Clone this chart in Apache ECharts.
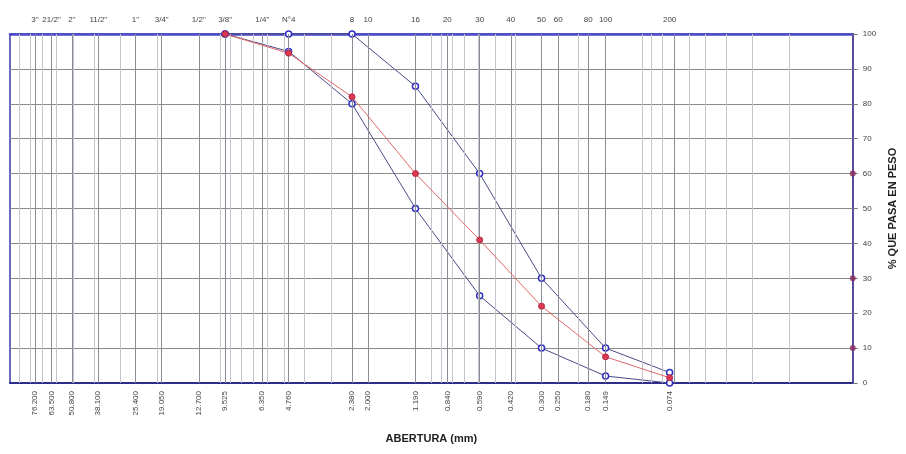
<!DOCTYPE html>
<html><head><meta charset="utf-8">
<script src="https://cdn.jsdelivr.net/npm/echarts@6/dist/echarts.min.js"></script>
<style>html,body{margin:0;padding:0;background:#fff}#c{width:906px;height:454px}</style>
</head><body><div id="c"></div>
<script>
// Sieve openings (mm) and their names
const sieveMm = [76.2, 63.5, 50.8, 38.1, 25.4, 19.05, 12.7, 9.525, 6.35, 4.76, 2.38, 2.0, 1.19, 0.84, 0.59, 0.42, 0.30, 0.25, 0.18, 0.149, 0.074];
const sieveNames = ['3"', '21/2"', '2"', '11/2"', '1"', '3/4"', '1/2"', '3/8"', '1/4"', 'N°4', '8', '10', '16', '20', '30', '40', '50', '60', '80', '100', '200'];
const sieveLabels = ['76.200', '63.500', '50.800', '38.100', '25.400', '19.050', '12.700', '9.525', '6.350', '4.760', '2.380', '2.000', '1.190', '0.840', '0.590', '0.420', '0.300', '0.250', '0.180', '0.149', '0.074'];
// log-paper grid lines
const logGrid = [90, 80, 70, 60, 50, 40, 30, 20, 10, 9, 8, 7, 6, 5, 4, 3, 2, 1, 0.9, 0.8, 0.7, 0.6, 0.5, 0.4, 0.3, 0.2, 0.1, 0.09, 0.08, 0.07, 0.06, 0.05, 0.04, 0.03, 0.02];
// Tested sieves
const testMm = [9.525, 4.76, 2.38, 1.19, 0.59, 0.30, 0.149, 0.074];
const upperLimit = [100, 100, 100, 85, 60, 30, 10, 3];
const lowerLimit = [100, 95, 80, 50, 25, 10, 2, 0];
const sample = [100, 94.5, 82, 60, 41, 22, 7.5, 1.5];
// marks on right edge
const edgeX = 0.01;
const edgeMarks = [60, 30, 10];
const yTicks = [0, 10, 20, 30, 40, 50, 60, 70, 80, 90, 100];

const pair = (xs, ys) => xs.map((x, i) => [x, ys[i]]);
const F = 'Liberation Sans, Arial, sans-serif';
const chart = echarts.init(document.getElementById('c'), null, {renderer: 'canvas'});
const xBase = {
  type: 'log', logBase: 10, min: 0.01, max: 100, inverse: true,
  splitLine: {show: false}, minorSplitLine: {show: false},
};
chart.setOption({
  animation: false,
  backgroundColor: '#fff',
  grid: {left: 10, right: 53, top: 34, bottom: 71, show: true, borderColor: '#3a3aa8', borderWidth: 1.5},
  xAxis: [
    Object.assign({}, xBase, {
      position: 'bottom',
      name: 'ABERTURA (mm)', nameLocation: 'middle', nameGap: 50,
      nameTextStyle: {fontFamily: F, fontSize: 11, fontWeight: 'bold', color: '#222'},
      axisLine: {show: true, lineStyle: {color: '#2e2e8a', width: 2}},
      axisTick: {show: false, customValues: sieveMm},
      axisLabel: {
        customValues: sieveMm, rotate: 90, margin: 8, interval: 0, hideOverlap: false,
        fontFamily: F, fontSize: 8, color: '#444',
        formatter: v => { const i = sieveMm.findIndex(s => Math.abs(s - v) < 1e-6); return i >= 0 ? sieveLabels[i] : ''; }
      }
    }),
    Object.assign({}, xBase, {
      position: 'top',
      axisLine: {show: true, lineStyle: {color: '#4a4ac8', width: 2.5}},
      axisTick: {show: false, customValues: sieveMm},
      axisLabel: {
        customValues: sieveMm, margin: 10, interval: 0, hideOverlap: false,
        fontFamily: F, fontSize: 8, color: '#444',
        formatter: v => { const i = sieveMm.findIndex(s => Math.abs(s - v) < 1e-6); return i >= 0 ? sieveNames[i] : ''; }
      }
    })
  ],
  yAxis: {
    type: 'value', min: 0, max: 100, interval: 10, position: 'right',
    name: '% QUE PASA EN PESO', nameLocation: 'middle', nameGap: 30, nameRotate: 90,
    nameTextStyle: {fontFamily: F, fontSize: 11, fontWeight: 'bold', color: '#222'},
    axisLine: {show: true, lineStyle: {color: '#5a4a9e', width: 2}},
    axisTick: {show: true, length: 5, lineStyle: {color: '#777'}},
    axisLabel: {fontFamily: F, fontSize: 8, color: '#444', margin: 10},
    splitLine: {show: true, lineStyle: {color: '#8a8a8a', width: 1}}
  },
  series: [
    {
      name: 'grid', type: 'line', data: [], silent: true, z: 1,
      markLine: {
        silent: true, symbol: 'none', label: {show: false}, animation: false,
        lineStyle: {color: '#c4c4cc', width: 1, type: 'solid'},
        data: logGrid.map(v => ({xAxis: v}))
      }
    },
    {
      name: 'gridSieve', type: 'line', data: [], silent: true, z: 1,
      markLine: {
        silent: true, symbol: 'none', label: {show: false}, animation: false,
        lineStyle: {color: '#8c8c96', width: 1, type: 'solid'},
        data: sieveMm.map(v => ({xAxis: v}))
      }
    },
    {
      name: 'Límite superior', type: 'line', data: pair(testMm, upperLimit), clip: false, z: 4,
      symbol: 'circle', symbolSize: 6,
      lineStyle: {color: '#4a4a86', width: 1},
      itemStyle: {color: '#ffffff', borderColor: '#3030c0', borderWidth: 1.5}
    },
    {
      name: 'Límite inferior', type: 'line', data: pair(testMm, lowerLimit), clip: false, z: 4,
      symbol: 'circle', symbolSize: 6,
      lineStyle: {color: '#4a4a86', width: 1},
      itemStyle: {color: '#ffffff', borderColor: '#3030c0', borderWidth: 1.5}
    },
    {
      name: 'Muestra', type: 'line', data: pair(testMm, sample), clip: false, z: 5,
      symbol: 'circle', symbolSize: 6,
      lineStyle: {color: '#e06868', width: 1},
      itemStyle: {color: '#d83a50', borderColor: '#b82a4a', borderWidth: 1}
    },
    {
      name: 'edge', type: 'scatter', data: edgeMarks.map(v => [edgeX, v]), clip: false, z: 6,
      symbolSize: 6, itemStyle: {color: '#8a2a5a'}
    }
  ]
});
</script></body></html>
